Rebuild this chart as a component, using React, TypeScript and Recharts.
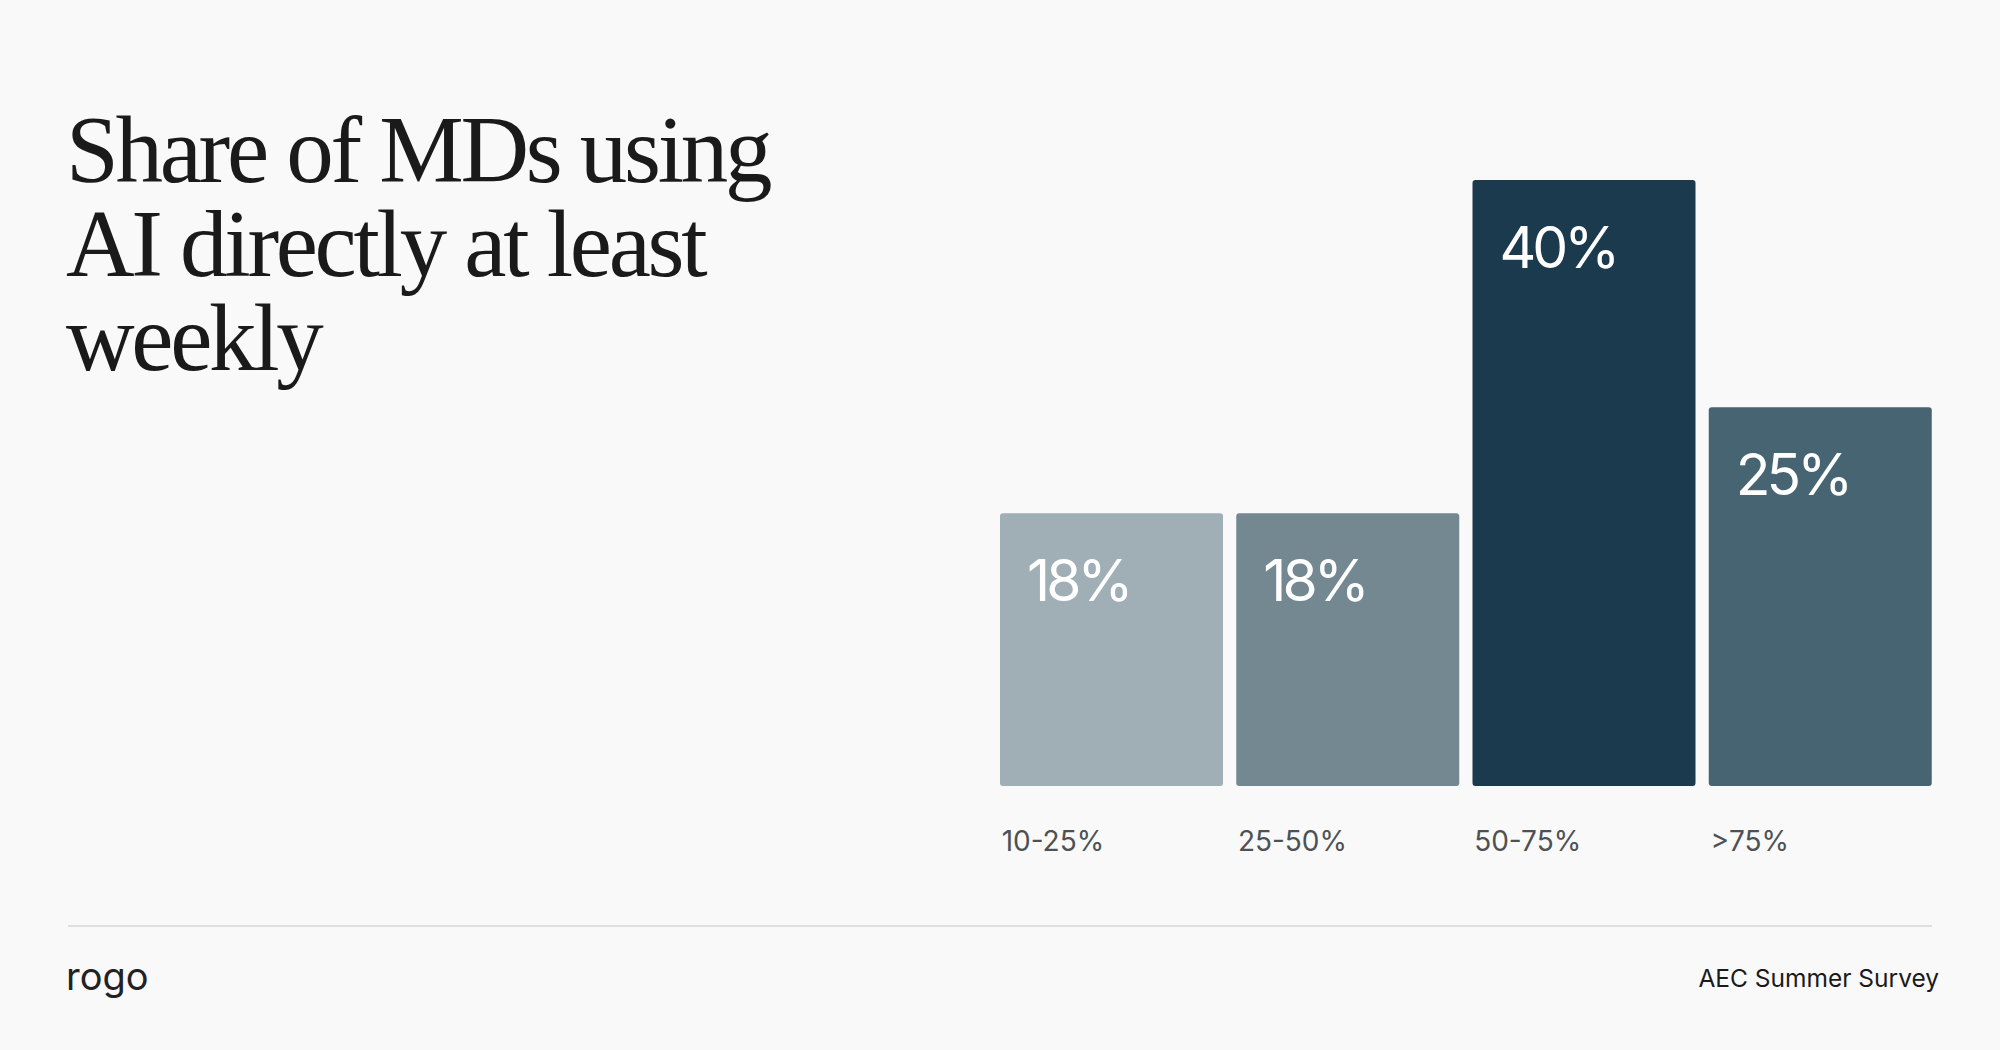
import { FC } from 'react';
import { BarChart, Bar, XAxis, YAxis, Cell, LabelList } from 'recharts';

const CATEGORIES = ['10-25%', '25-50%', '50-75%', '>75%'];
const SHARES = [18, 18, 40, 25];
const BAR_COLORS = ['#a0aeb5', '#748892', '#1b3a4e', '#466472'];
const TITLE_LINES = ['Share of MDs using', 'AI directly at least', 'weekly'];

const BAR_SIZE = 223;

const data = CATEGORIES.map((category, i) => ({ category, share: SHARES[i] }));

const CategoryTick: FC<any> = ({ x, y, payload }) => (
  <text
    x={x - BAR_SIZE / 2 + 2}
    y={y + 65}
    fontFamily="Inter, sans-serif"
    fontSize={28}
    fill="#4d5154"
    textAnchor="start"
  >
    {payload.value}
  </text>
);

const ValueLabel: FC<any> = ({ x, y, value }) => (
  <text
    x={x + 27}
    y={y + 88}
    fontFamily="Inter, sans-serif"
    fontSize={57}
    letterSpacing={-4}
    fill="#ffffff"
  >
    {`${value}%`}
  </text>
);

const App: FC = () => {
  return (
    <div
      style={{
        position: 'fixed',
        left: 0,
        top: 0,
        width: 2000,
        height: 1050,
        background: '#f9f9f9',
        overflow: 'hidden'
      }}
    >
      <svg width={2000} height={1050} style={{ position: 'absolute', left: 0, top: 0 }}>
        {TITLE_LINES.map((line, i) => (
          <text
            key={line}
            x={66}
            y={182 + i * 94}
            fontFamily="'Liberation Serif', serif"
            fontSize={95}
            letterSpacing={-3.3}
            fill="#1a1a1a"
          >
            {line}
          </text>
        ))}
        <line x1={68} x2={1932} y1={926} y2={926} stroke="#d6d6d6" strokeWidth={1.5} />
        <text x={66} y={990} fontFamily="Inter, sans-serif" fontSize={38} fill="#222">
          rogo
        </text>
        <text
          x={1939}
          y={987}
          textAnchor="end"
          fontFamily="Inter, sans-serif"
          fontSize={24.5}
          fill="#1a1a1a"
        >
          AEC Summer Survey
        </text>
      </svg>
      <div style={{ position: 'absolute', left: 0, top: 0 }}>
        <BarChart
          width={2000}
          height={1050}
          data={data}
          margin={{ top: 180, right: 62, left: 993, bottom: 204 }}
        >
          <XAxis
            dataKey="category"
            height={60}
            axisLine={false}
            tickLine={false}
            tickSize={0}
            tickMargin={0}
            interval={0}
            tick={<CategoryTick />}
          />
          <YAxis hide domain={[0, 40]} />
          <Bar dataKey="share" barSize={BAR_SIZE} radius={3} isAnimationActive={false}>
            {data.map((entry, i) => (
              <Cell key={entry.category} fill={BAR_COLORS[i]} />
            ))}
            <LabelList dataKey="share" content={<ValueLabel />} />
          </Bar>
        </BarChart>
      </div>
    </div>
  );
};

export default App;
